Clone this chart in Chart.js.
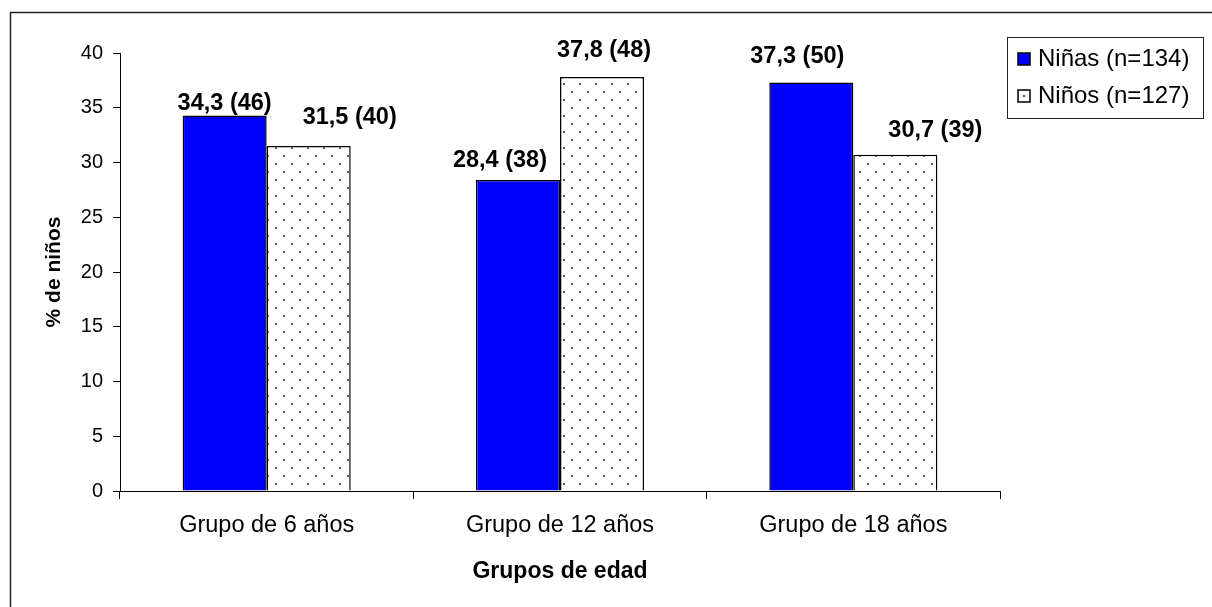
<!DOCTYPE html>
<html>
<head>
<meta charset="utf-8">
<script src="https://cdn.jsdelivr.net/npm/chart.js@4.4.0/dist/chart.umd.min.js"></script>
<style>
  html, body { margin: 0; padding: 0; background: #fff; }
  canvas { display: block; }
</style>
</head>
<body>
<canvas id="chart" width="1212" height="607"></canvas>
<script>
// Age groups and the share of children (%) in each, by sex
const categories = ['Grupo de 6 años', 'Grupo de 12 años', 'Grupo de 18 años'];
const seriesNames = ['Niñas (n=134)', 'Niños (n=127)'];
const ninasPct = [34.3, 28.4, 37.3];
const ninosPct = [31.5, 37.8, 30.7];
const ninasCount = [46, 38, 50];
const ninosCount = [40, 48, 39];
const yTickValues = [0, 5, 10, 15, 20, 25, 30, 35, 40];

const FONT = '"Liberation Sans", Arial, Helvetica, sans-serif';

// Label placement (pixel shift of each value label from its bar's top centre)
const labelShift = [
  [[0, -12], [-18, -20], [-14, -26]],
  [[41, -29], [2, -27], [40, -24]]
];

// Staggered dot fill for the second series
function makeDots(bg) {
  const t = document.createElement('canvas');
  t.width = 16; t.height = 16;
  const g = t.getContext('2d');
  g.fillStyle = bg;
  g.fillRect(0, 0, 16, 16);
  g.fillStyle = '#555';
  g.fillRect(3, 3, 2, 2);
  g.fillRect(11, 11, 2, 2);
  return g.createPattern(t, 'repeat');
}
const ctx = document.getElementById('chart').getContext('2d');
const dotFill = makeDots('#ffffff');

function fmt(v) {
  return v.toFixed(1).replace('.', ',');
}

const framePlugin = {
  id: 'frame',
  beforeDraw(chart) {
    const c = chart.ctx;
    c.save();
    c.fillStyle = '#fff';
    c.fillRect(0, 0, chart.width, chart.height);
    c.strokeStyle = '#222';
    c.lineWidth = 1.5;
    c.beginPath();
    c.moveTo(10.5, chart.height);
    c.lineTo(10.5, 12.5);
    c.lineTo(chart.width, 12.5);
    c.stroke();
    c.restore();
  }
};

const valueLabels = {
  id: 'valueLabels',
  afterDatasetsDraw(chart) {
    const c = chart.ctx;
    c.save();
    c.fillStyle = '#000';
    c.font = 'bold 23.5px ' + FONT;
    c.textAlign = 'center';
    c.textBaseline = 'middle';
    chart.data.datasets.forEach((ds, di) => {
      const meta = chart.getDatasetMeta(di);
      meta.data.forEach((bar, i) => {
        const [dx, dy] = labelShift[di][i];
        const txt = fmt(ds.data[i]) + ' (' + ds.counts[i] + ')';
        c.fillText(txt, bar.x + dx, bar.y + dy);
      });
    });
    c.restore();
  }
};

const boxLegend = {
  id: 'boxLegend',
  afterDraw(chart) {
    const c = chart.ctx;
    c.save();
    c.strokeStyle = '#222';
    c.lineWidth = 1;
    c.strokeRect(1007.5, 37.5, 196, 81);
    const rows = [59, 96];
    chart.data.datasets.forEach((ds, i) => {
      const y = rows[i];
      const s = 12;
      const x0 = 1018;
      c.fillStyle = i === 0 ? ds.backgroundColor : '#fff';
      c.fillRect(x0, y - s / 2, s, s);
      if (i === 1) {
        c.fillStyle = '#555';
        c.fillRect(x0 + 5, y - 1, 2, 2);
      }
      c.strokeStyle = '#000';
      c.lineWidth = 1.5;
      c.strokeRect(x0, y - s / 2, s, s);
      c.fillStyle = '#000';
      c.font = '24px ' + FONT;
      c.textAlign = 'left';
      c.textBaseline = 'middle';
      c.fillText(ds.label, 1038, y);
    });
    c.restore();
  }
};

new Chart(ctx, {
  type: 'bar',
  data: {
    labels: categories,
    datasets: [
      {
        label: seriesNames[0],
        data: ninasPct,
        counts: ninasCount,
        backgroundColor: '#0000ff',
        borderColor: '#000',
        borderWidth: 1.5,
        categoryPercentage: 0.573,
        barPercentage: 1
      },
      {
        label: seriesNames[1],
        data: ninosPct,
        counts: ninosCount,
        backgroundColor: dotFill,
        borderColor: '#000',
        borderWidth: 1.5,
        categoryPercentage: 0.573,
        barPercentage: 1
      }
    ]
  },
  options: {
    responsive: false,
    animation: false,
    devicePixelRatio: 1,
    layout: { padding: { left: 0, right: 212, top: 53, bottom: 0 } },
    plugins: {
      legend: { display: false },
      tooltip: { enabled: false }
    },
    scales: {
      x: {
        grid: { offset: true, drawOnChartArea: false, drawTicks: true, tickLength: 8, color: '#000', lineWidth: 1 },
        border: { display: true, color: '#000', width: 1 },
        ticks: { color: '#000', font: { family: FONT, size: 23.5 }, padding: 12, maxRotation: 0 },
        title: {
          display: true,
          text: 'Grupos de edad',
          color: '#000',
          font: { family: FONT, size: 23, weight: 'bold' },
          padding: { top: 0, bottom: 22 }
        },
        afterFit(scale) { scale.height = 116; }
      },
      y: {
        min: yTickValues[0],
        max: yTickValues[yTickValues.length - 1],
        afterBuildTicks(scale) { scale.ticks = yTickValues.map(v => ({ value: v })); },
        grid: { drawOnChartArea: false, drawTicks: true, tickLength: 7, color: '#000', lineWidth: 1 },
        border: { display: true, color: '#000', width: 1 },
        ticks: { color: '#000', font: { family: FONT, size: 20 }, padding: 10 },
        title: {
          display: true,
          text: '% de niños',
          color: '#000',
          font: { family: FONT, size: 21, weight: 'bold' },
          padding: { top: 42, bottom: 0 }
        },
        afterFit(scale) { scale.width = 120; }
      }
    }
  },
  plugins: [framePlugin, valueLabels, boxLegend]
});
</script>
</body>
</html>
